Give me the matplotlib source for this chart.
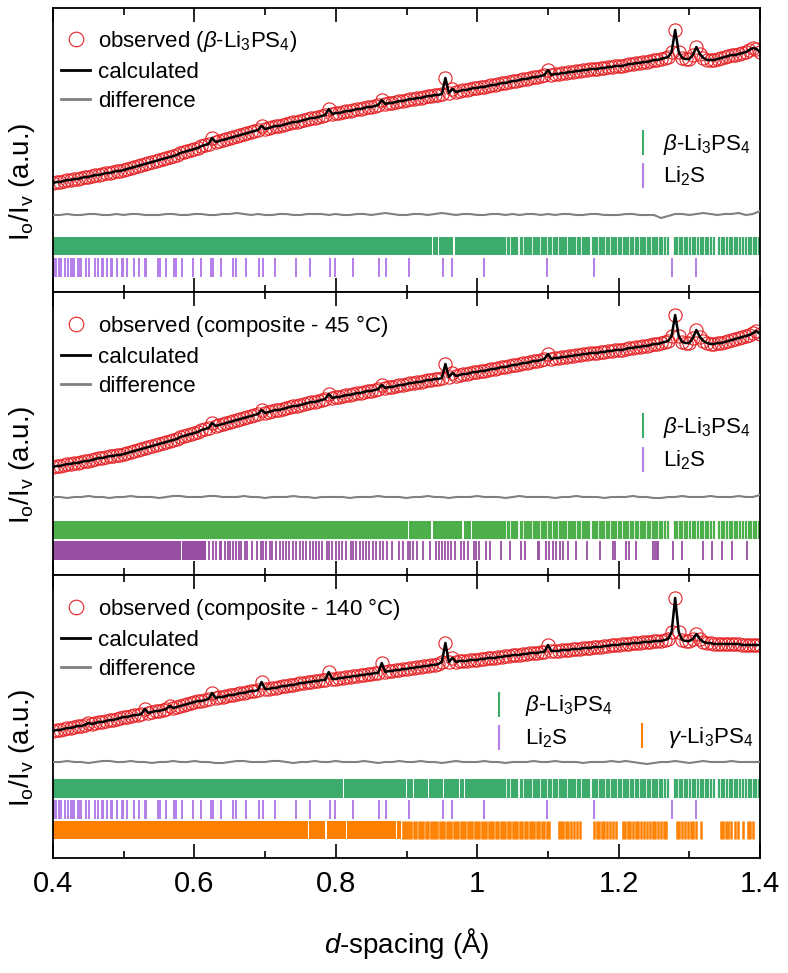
import numpy as np
import matplotlib
matplotlib.use('Agg')
import matplotlib.pyplot as plt
from matplotlib.lines import Line2D
from matplotlib.ticker import MultipleLocator, FuncFormatter

plt.rcParams['font.family'] = ['Liberation Sans', 'DejaVu Sans']
plt.rcParams['mathtext.fontset'] = 'custom'
plt.rcParams['mathtext.rm'] = 'Liberation Sans'
plt.rcParams['mathtext.it'] = 'Liberation Sans:italic'

# ---- data (d-spacing in Angstrom, intensity in arbitrary units) ----
# observed / calculated profiles on a 0.005 A step from 0.400 to 1.400
d_grid = np.round(np.linspace(0.4, 1.4, 201), 3)
d_diff = np.round(np.linspace(0.4, 1.4, 101), 3)

obs_beta = [
    109, 110, 110, 111, 112, 112, 113, 113, 114, 115, 115, 116, 117, 117, 118, 119, 119, 120, 121, 121,
    122, 123, 124, 125, 126, 127, 128, 129, 130, 131, 132, 133, 134, 135, 136, 137, 139, 140, 141, 142,
    143, 144, 146, 147, 148, 154, 150, 151, 152, 153, 154, 155, 156, 157, 158, 159, 160, 161, 162, 166,
    163, 164, 165, 166, 166, 167, 168, 169, 170, 170, 171, 172, 173, 174, 174, 175, 176, 177, 183, 178,
    179, 179, 180, 181, 181, 182, 183, 183, 184, 185, 185, 186, 187, 192, 188, 189, 189, 190, 191, 191,
    192, 193, 193, 194, 194, 195, 196, 196, 197, 197, 198, 214, 199, 203, 200, 201, 202, 202, 203, 204,
    204, 205, 205, 206, 207, 207, 208, 209, 209, 210, 211, 211, 212, 213, 213, 214, 215, 215, 216, 217,
    222, 217, 218, 218, 219, 219, 220, 220, 221, 221, 222, 222, 223, 223, 223, 224, 224, 225, 225, 226,
    226, 226, 227, 228, 228, 229, 229, 230, 230, 231, 232, 232, 233, 234, 235, 240, 262, 240, 234, 233,
    233, 237, 245, 238, 234, 232, 232, 232, 233, 234, 235, 236, 237, 237, 238, 239, 240, 242, 244, 243, 240]

obs_45 = [
    108, 109, 109, 110, 111, 111, 112, 112, 113, 114, 114, 115, 116, 117, 117, 118, 119, 119, 120, 120,
    121, 122, 123, 124, 125, 126, 127, 128, 129, 130, 131, 132, 133, 134, 135, 136, 138, 139, 140, 141,
    142, 143, 145, 146, 147, 152, 149, 150, 151, 152, 153, 154, 155, 156, 157, 158, 159, 160, 161, 165,
    162, 163, 164, 165, 165, 166, 167, 168, 169, 169, 170, 171, 172, 173, 173, 174, 175, 176, 181, 177,
    178, 178, 179, 180, 180, 181, 182, 182, 183, 184, 184, 185, 186, 190, 187, 188, 188, 189, 190, 190,
    191, 192, 192, 193, 193, 194, 195, 195, 196, 196, 197, 211, 198, 202, 199, 200, 201, 201, 202, 203,
    203, 204, 204, 205, 206, 206, 207, 208, 208, 209, 210, 210, 211, 212, 212, 213, 214, 214, 215, 216,
    221, 216, 217, 217, 218, 218, 219, 219, 220, 220, 221, 221, 222, 222, 222, 223, 223, 224, 224, 225,
    225, 225, 226, 227, 227, 228, 228, 229, 229, 230, 231, 231, 232, 233, 234, 239, 260, 239, 233, 232,
    232, 237, 245, 238, 234, 232, 231, 231, 232, 232, 233, 234, 235, 236, 237, 238, 239, 240, 242, 244, 241]

obs_140 = [
    127, 128, 128, 129, 130, 130, 131, 132, 132, 133, 135, 134, 135, 136, 136, 137, 138, 138, 139, 140,
    141, 141, 142, 143, 143, 144, 149, 145, 146, 147, 147, 148, 149, 152, 150, 151, 152, 153, 154, 155,
    156, 157, 157, 158, 159, 165, 160, 161, 161, 162, 163, 163, 164, 165, 165, 166, 167, 167, 168, 176,
    169, 169, 170, 170, 171, 172, 172, 173, 173, 174, 175, 175, 176, 176, 177, 177, 178, 178, 186, 179,
    179, 180, 180, 181, 181, 182, 182, 183, 183, 184, 184, 185, 185, 195, 186, 187, 187, 188, 188, 189,
    189, 190, 190, 191, 191, 192, 192, 193, 193, 194, 196, 215, 196, 200, 196, 197, 197, 197, 198, 198,
    198, 199, 199, 200, 200, 200, 201, 201, 202, 202, 203, 203, 203, 204, 204, 205, 205, 205, 206, 206,
    213, 207, 207, 207, 208, 208, 208, 209, 209, 209, 210, 210, 210, 211, 211, 211, 212, 212, 213, 213,
    213, 214, 214, 214, 215, 215, 215, 216, 216, 216, 217, 217, 217, 218, 219, 226, 260, 226, 218, 217,
    217, 219, 224, 219, 216, 215, 215, 214, 214, 214, 214, 214, 214, 214, 214, 213, 213, 213, 213, 213, 213]

# difference curves on a 0.01 A step
diff_beta = [
    77, 77, 78, 77, 77, 78, 78, 77, 77, 78, 77, 78, 78, 77, 77, 77, 78, 78, 77, 77,
    78, 78, 77, 77, 78, 78, 79, 78, 77, 78, 77, 77, 78, 78, 77, 77, 78, 78, 78, 77,
    78, 77, 77, 78, 78, 77, 78, 79, 78, 77, 77, 78, 78, 77, 78, 79, 78, 77, 78, 78,
    77, 77, 78, 78, 77, 78, 77, 78, 78, 77, 78, 77, 78, 78, 77, 77, 78, 78, 77, 77,
    77, 78, 78, 77, 77, 77, 74, 76, 78, 78, 77, 78, 79, 78, 77, 78, 78, 79, 77, 78, 81]
diff_45 = [
    78, 78, 77, 78, 78, 79, 78, 78, 77, 78, 78, 79, 78, 78, 78, 77, 78, 79, 79, 78,
    78, 78, 79, 79, 78, 78, 78, 79, 78, 78, 77, 78, 78, 78, 79, 78, 78, 77, 78, 78,
    78, 78, 77, 78, 78, 78, 79, 78, 78, 78, 77, 78, 78, 79, 78, 78, 77, 78, 78, 78,
    79, 78, 78, 78, 77, 78, 79, 78, 78, 78, 78, 77, 78, 78, 79, 78, 78, 78, 77, 78,
    78, 78, 79, 78, 78, 77, 77, 78, 78, 79, 78, 78, 78, 79, 78, 78, 78, 79, 78, 78, 80]
diff_140 = [
    96, 96, 97, 96, 96, 95, 96, 97, 97, 96, 96, 97, 96, 96, 95, 96, 96, 97, 96, 96,
    97, 96, 96, 95, 95, 96, 97, 97, 96, 96, 96, 97, 97, 96, 95, 96, 96, 97, 96, 96,
    97, 96, 96, 96, 97, 96, 95, 96, 96, 97, 96, 96, 97, 96, 96, 95, 96, 97, 96, 96,
    96, 97, 96, 96, 95, 96, 96, 96, 97, 96, 96, 97, 96, 96, 96, 95, 96, 96, 96, 97,
    96, 97, 96, 95, 94, 95, 96, 96, 97, 96, 95, 96, 97, 96, 96, 96, 97, 96, 96, 96, 96]

# reflection markers: solid runs (start, end) where ticks merge, plus single ticks
beta_runs_top = [(0.400, 0.936), (0.938, 0.944), (0.946, 0.966), (0.968, 1.029)]
beta_runs_45 = [(0.400, 0.902), (0.904, 0.935), (0.937, 0.979), (0.981, 0.991), (0.993, 1.029)]
beta_runs_140 = [(0.400, 0.810), (0.812, 0.899), (0.901, 0.909), (0.911, 0.930), (0.932, 0.951),
                 (0.953, 0.974), (0.976, 0.981), (0.983, 1.029)]
beta_ticks = [
    1.031, 1.034, 1.036, 1.040, 1.043, 1.045, 1.049, 1.052, 1.055, 1.057, 1.062, 1.064, 1.067, 1.071,
    1.073, 1.076, 1.080, 1.083, 1.085, 1.088, 1.092, 1.095, 1.097, 1.101, 1.104, 1.108, 1.110, 1.113,
    1.117, 1.120, 1.123, 1.126, 1.130, 1.133, 1.135, 1.139, 1.142, 1.146, 1.149, 1.152, 1.156, 1.158,
    1.164, 1.167, 1.170, 1.174, 1.177, 1.180, 1.184, 1.187, 1.190, 1.194, 1.197, 1.200, 1.204, 1.207,
    1.211, 1.214, 1.217, 1.221, 1.224, 1.228, 1.231, 1.234, 1.238, 1.241, 1.245, 1.248, 1.252, 1.255,
    1.259, 1.262, 1.266, 1.270, 1.280, 1.283, 1.287, 1.290, 1.294, 1.297, 1.301, 1.305, 1.308, 1.312,
    1.316, 1.320, 1.323, 1.327, 1.331, 1.335, 1.342, 1.346, 1.349, 1.353, 1.357, 1.361, 1.364, 1.368,
    1.372, 1.376, 1.380, 1.384, 1.387, 1.391, 1.395, 1.399]

li2s_ticks = [
    1.310, 1.276, 1.165, 1.099, 1.009, 0.965, 0.951, 0.903, 0.871, 0.861, 0.824, 0.799, 0.792, 0.763,
    0.743, 0.714, 0.697, 0.692, 0.673, 0.659, 0.655, 0.638, 0.627, 0.623, 0.609, 0.598, 0.583, 0.574,
    0.571, 0.560, 0.552, 0.549, 0.532, 0.530, 0.521, 0.515, 0.505, 0.499, 0.497, 0.490, 0.484, 0.482,
    0.476, 0.471, 0.469, 0.463, 0.459, 0.451, 0.447, 0.446, 0.440, 0.437, 0.435, 0.430, 0.427, 0.426,
    0.421, 0.417, 0.412, 0.409, 0.408, 0.404, 0.401]

second_runs_45 = [(0.400, 0.581), (0.583, 0.617)]
second_ticks_45 = [
    0.621, 0.626, 0.631, 0.636, 0.638, 0.643, 0.647, 0.650, 0.654, 0.659, 0.663, 0.666, 0.671, 0.675,
    0.681, 0.688, 0.694, 0.697, 0.701, 0.707, 0.710, 0.715, 0.721, 0.725, 0.730, 0.734, 0.739, 0.744,
    0.749, 0.754, 0.758, 0.764, 0.768, 0.772, 0.776, 0.781, 0.787, 0.790, 0.795, 0.800, 0.805, 0.809,
    0.815, 0.822, 0.825, 0.829, 0.834, 0.839, 0.843, 0.847, 0.852, 0.857, 0.862, 0.867, 0.872, 0.879,
    0.890, 0.895, 0.902, 0.905, 0.909, 0.915, 0.923, 0.933, 0.942, 0.946, 0.950, 0.955, 0.959, 0.963,
    0.968, 0.977, 0.982, 0.987, 0.995, 0.999, 1.003, 1.013, 1.018, 1.034, 1.047, 1.062, 1.068, 1.086,
    1.088, 1.097, 1.102, 1.107, 1.112, 1.117, 1.121, 1.128, 1.140, 1.156, 1.173, 1.192, 1.195, 1.211,
    1.215, 1.224, 1.249, 1.251, 1.254, 1.256, 1.277, 1.290, 1.319, 1.332, 1.346, 1.360, 1.381]

gamma_runs = [(0.400, 0.760), (0.762, 0.785), (0.787, 0.814), (0.816, 0.885), (0.887, 0.892)]
gamma_ticks = [
    0.895, 0.898, 0.901, 0.904, 0.907, 0.911, 0.914, 0.917, 0.920, 0.924, 0.927, 0.930, 0.934, 0.937,
    0.940, 0.943, 0.947, 0.950, 0.953, 0.957, 0.960, 0.963, 0.967, 0.970, 0.973, 0.977, 0.980, 0.983,
    0.987, 0.990, 0.993, 0.997, 1.000, 1.003, 1.007, 1.010, 1.013, 1.017, 1.020, 1.023, 1.027, 1.030,
    1.034, 1.037, 1.040, 1.044, 1.047, 1.050, 1.054, 1.057, 1.060, 1.064, 1.067, 1.071, 1.074, 1.078,
    1.081, 1.085, 1.088, 1.092, 1.095, 1.099, 1.102, 1.115, 1.118, 1.122, 1.125, 1.129, 1.133, 1.137,
    1.141, 1.145, 1.165, 1.169, 1.172, 1.176, 1.180, 1.184, 1.188, 1.192, 1.196, 1.206, 1.209, 1.213,
    1.216, 1.220, 1.224, 1.228, 1.232, 1.236, 1.240, 1.244, 1.248, 1.252, 1.256, 1.260, 1.264, 1.267,
    1.283, 1.286, 1.290, 1.294, 1.298, 1.302, 1.305, 1.310, 1.317, 1.345, 1.348, 1.352, 1.355, 1.359,
    1.364, 1.369, 1.376, 1.383, 1.386, 1.390]

sample_labels = [r'observed ($\beta$-Li$_3$PS$_4$)',
                 r'observed (composite - 45 $\degree$C)',
                 r'observed (composite - 140 $\degree$C)']
beta_label = r'$\beta$-Li$_3$PS$_4$'
li2s_label = r'Li$_2$S'
gamma_label = r'$\gamma$-Li$_3$PS$_4$'

RED = '#e62326'
GREY = '#808080'
GREEN = '#3cab6b'
GREEN2 = '#4daf4a'
LILAC = '#b47fe9'
PURPLE = '#984ea3'
ORANGE = '#ff8000'


def draw_row(ax, runs, ticks, color, y0, y1, lw=1.6):
    if runs:
        ax.broken_barh([(a, b - a) for a, b in runs], (y0, y1 - y0), facecolors=color, lw=0)
    if ticks:
        ax.vlines(ticks, y0, y1, colors=color, lw=lw)


def draw_profile(ax, obs, diff, label):
    ax.plot(d_grid, obs, ls='none', marker='o', ms=9.5, mfc='none', mec=RED, mew=0.8, zorder=2)
    ax.plot(d_grid, obs, color='black', lw=1.8, zorder=3)
    ax.plot(d_diff, diff, color=GREY, lw=1.5, zorder=3)
    handles = [Line2D([], [], ls='none', marker='o', ms=10.5, mfc='none', mec=RED, mew=0.8),
               Line2D([], [], color='black', lw=2),
               Line2D([], [], color=GREY, lw=2)]
    leg = ax.legend(handles, [label, 'calculated', 'difference'], loc='upper left',
                    bbox_to_anchor=(-0.018, 1.0), frameon=False, fontsize=16,
                    handlelength=1.3, handletextpad=0.35, labelspacing=0.36,
                    borderaxespad=0.5, borderpad=0.45)
    ax.add_artist(leg)


def phase_handle(color):
    return Line2D([], [], ls='none', marker='|', ms=18, mew=1.5, color=color)


def style_axis(ax, bottom_labels):
    ax.set_xlim(0.4, 1.4)
    ax.set_yticks([])
    ax.xaxis.set_major_locator(MultipleLocator(0.2))
    ax.xaxis.set_minor_locator(MultipleLocator(0.1))
    ax.xaxis.set_major_formatter(FuncFormatter(lambda v, p: '%g' % round(v, 2)))
    ax.tick_params(axis='x', which='both', direction='in', top=True, bottom=True,
                   width=1.2, labelsize=21, pad=9, labelbottom=bottom_labels)
    ax.tick_params(axis='x', which='major', length=10)
    ax.tick_params(axis='x', which='minor', length=5)
    for s in ax.spines.values():
        s.set_linewidth(1.3)
    ax.set_ylabel(r'I$_\mathrm{o}$/I$_\mathrm{v}$ (a.u.)', fontsize=20)
    ax.yaxis.set_label_coords(-0.022, 0.39)


def main():
    fig = plt.figure(figsize=(7.88, 9.73), dpi=100)
    left, width = 53 / 788, 707 / 788
    tops = [8, 292, 575]
    bottoms = [292, 575, 858]
    axes = []
    for t, b in zip(tops, bottoms):
        axes.append(fig.add_axes([left, 1 - b / 973, width, (b - t) / 973]))

    # panel 1: beta-Li3PS4
    ax = axes[0]
    ax.set_ylim(0, 284)
    draw_profile(ax, obs_beta, diff_beta, sample_labels[0])
    draw_row(ax, beta_runs_top, beta_ticks, GREEN, 37, 55)
    draw_row(ax, None, li2s_ticks, LILAC, 15, 34, lw=1.4)
    ax.legend([phase_handle(GREEN), phase_handle(LILAC)], [beta_label, li2s_label],
              loc='upper left', bbox_to_anchor=(0.81, 0.588), frameon=False, fontsize=16,
              handlelength=1.0, handletextpad=0.36, labelspacing=0.37, borderaxespad=0,
              borderpad=0.3)
    style_axis(ax, False)

    # panel 2: composite 45 C
    ax = axes[1]
    ax.set_ylim(0, 283)
    draw_profile(ax, obs_45, diff_45, sample_labels[1])
    draw_row(ax, beta_runs_45, beta_ticks, GREEN2, 36, 54)
    draw_row(ax, second_runs_45, second_ticks_45, PURPLE, 15, 34, lw=1.3)
    ax.legend([phase_handle(GREEN), phase_handle(LILAC)], [beta_label, li2s_label],
              loc='upper left', bbox_to_anchor=(0.81, 0.588), frameon=False, fontsize=16,
              handlelength=1.0, handletextpad=0.36, labelspacing=0.37, borderaxespad=0,
              borderpad=0.3)
    style_axis(ax, False)

    # panel 3: composite 140 C
    ax = axes[2]
    ax.set_ylim(0, 283)
    draw_profile(ax, obs_140, diff_140, sample_labels[2])
    draw_row(ax, beta_runs_140, beta_ticks, GREEN, 60, 79)
    draw_row(ax, None, li2s_ticks, LILAC, 39, 58, lw=1.4)
    draw_row(ax, gamma_runs, gamma_ticks, ORANGE, 19, 37, lw=1.8)
    blank = Line2D([], [], ls='none')
    ax.legend([phase_handle(GREEN), phase_handle(LILAC), blank, phase_handle(ORANGE)],
              [beta_label, li2s_label, '', gamma_label], ncol=2,
              loc='upper left', bbox_to_anchor=(0.606, 0.605), frameon=False, fontsize=16,
              handlelength=1.0, handletextpad=0.68, labelspacing=0.37, borderaxespad=0,
              borderpad=0.3, columnspacing=0.8)
    style_axis(ax, True)
    ax.set_xlabel(r'$d$-spacing (Å)', fontsize=20, labelpad=20)

    fig.savefig('out.png', dpi=100)
    print('Plot created and saved')


if __name__ == '__main__':
    main()
